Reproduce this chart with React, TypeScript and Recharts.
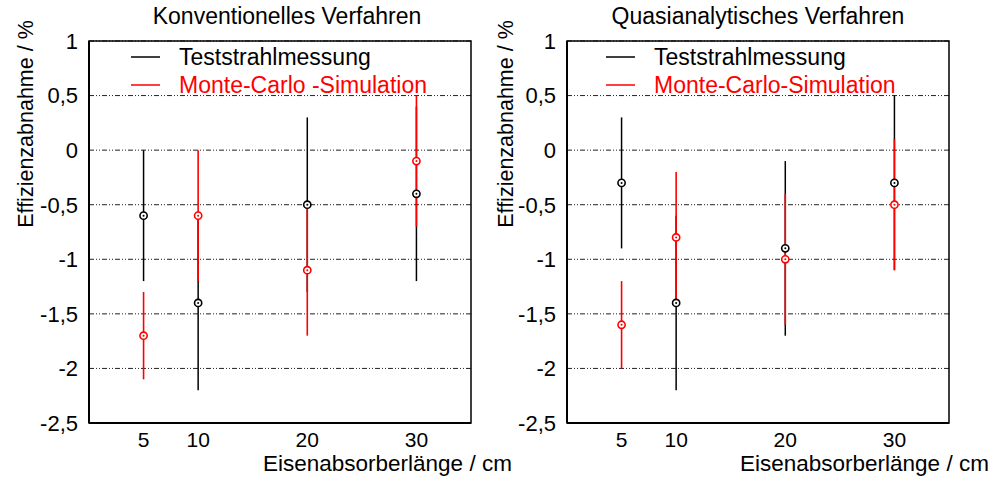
import React from "react";
import {
  CartesianGrid,
  ErrorBar,
  Legend,
  ReferenceArea,
  Scatter,
  ScatterChart,
  XAxis,
  YAxis,
} from "recharts";

const LENGTHS = [5, 10, 20, 30];

const KONV_TEST = [-0.6, -1.4, -0.5, -0.4];
const KONV_TEST_ERR = [0.6, 0.8, 0.8, 0.8];
const KONV_MC = [-1.7, -0.6, -1.1, -0.1];
const KONV_MC_ERR = [0.4, 0.6, 0.6, 0.6];

const QUASI_TEST = [-0.3, -1.4, -0.9, -0.3];
const QUASI_TEST_ERR = [0.6, 0.8, 0.8, 0.8];
const QUASI_MC = [-1.6, -0.8, -1.0, -0.5];
const QUASI_MC_ERR = [0.4, 0.6, 0.6, 0.6];

const TEST_NAME = "Teststrahlmessung";

const Y_TICKS = [1, 0.5, 0, -0.5, -1, -1.5, -2, -2.5];
const Y_MINOR_TICKS = [
  1, 0.9, 0.8, 0.7, 0.6, 0.5, 0.4, 0.3, 0.2, 0.1, 0, -0.1, -0.2, -0.3, -0.4,
  -0.5, -0.6, -0.7, -0.8, -0.9, -1, -1.1, -1.2, -1.3, -1.4, -1.5, -1.6, -1.7,
  -1.8, -1.9, -2, -2.1, -2.2, -2.3, -2.4, -2.5,
];
const X_DOMAIN = [0, 35];
const Y_DOMAIN = [-2.5, 1];

const FONT = "'Liberation Sans', Arial, sans-serif";
const RED = "#ff0000";

const toRows = (ys: number[], errs: number[]) =>
  LENGTHS.map((x, i) => ({ x, y: ys[i], err: errs[i] }));

const fmt = (v: number) => String(v).replace(".", ",");

function Marker(props: any) {
  const { cx, cy, fill } = props;
  if (cx == null || cy == null) return null;
  return (
    <g>
      <circle cx={cx} cy={cy} r={3.6} fill="#fff" stroke={fill} strokeWidth={1.6} />
      <circle cx={cx} cy={cy} r={1} fill={fill} />
    </g>
  );
}

function LegendBox(props: any) {
  // test beam first, simulation below
  const items = [...(props.payload || [])].sort(
    (a: any, b: any) => (a.value === TEST_NAME ? -1 : 0) - (b.value === TEST_NAME ? -1 : 0)
  );
  return (
    <svg width={340} height={60} style={{ display: "block" }}>
      {items.map((p: any, i: number) => (
        <g key={p.value}>
          <line x1={0} x2={29} y1={13 + i * 28} y2={13 + i * 28} stroke={p.color} strokeWidth={1.5} />
          <text x={48} y={21 + i * 28} fontSize={23} fontFamily={FONT} fill={p.color}>
            {p.value}
          </text>
        </g>
      ))}
    </svg>
  );
}

type PanelProps = {
  left: number;
  width: number;
  yWidth: number;
  marginRight: number;
  legendLeft: number;
  mcName: string;
  test: number[];
  testErr: number[];
  mc: number[];
  mcErr: number[];
};

function Panel(p: PanelProps) {
  return (
    <div style={{ position: "absolute", left: p.left, top: 0 }}>
      <ScatterChart
        width={p.width}
        height={477}
        margin={{ top: 41, right: p.marginRight, bottom: 24, left: 0 }}
      >
        <CartesianGrid
          xAxisId="x"
          yAxisId="y"
          vertical={false}
          stroke="#222"
          strokeWidth={1}
          strokeDasharray="5 2 1 2 1 2"
        />
        <XAxis
          xAxisId="x"
          dataKey="x"
          type="number"
          domain={X_DOMAIN}
          ticks={LENGTHS}
          allowDataOverflow
          height={30}
          tickSize={0}
          tickMargin={9}
          axisLine={{ stroke: "#000", strokeWidth: 2 }}
          tick={{ fontSize: 21, fill: "#000", fontFamily: FONT }}
        />
        <XAxis
          xAxisId="xm"
          type="number"
          domain={X_DOMAIN}
          ticks={LENGTHS}
          allowDataOverflow
          mirror
          tick={false}
          tickSize={4}
          axisLine={false}
          tickLine={{ stroke: "#000", strokeWidth: 1.2 }}
        />
        <YAxis
          yAxisId="y"
          dataKey="y"
          type="number"
          domain={Y_DOMAIN}
          ticks={Y_TICKS}
          allowDataOverflow
          width={p.yWidth}
          tickSize={0}
          tickMargin={11}
          tickFormatter={fmt}
          axisLine={{ stroke: "#000", strokeWidth: 2 }}
          tick={{ fontSize: 22, fill: "#000", fontFamily: FONT }}
        />
        <YAxis
          yAxisId="ym"
          type="number"
          domain={Y_DOMAIN}
          ticks={Y_MINOR_TICKS}
          allowDataOverflow
          mirror
          tick={false}
          tickSize={3}
          axisLine={false}
          tickLine={{ stroke: "#000", strokeWidth: 1.2 }}
        />
        <YAxis
          yAxisId="ymr"
          orientation="right"
          type="number"
          domain={Y_DOMAIN}
          ticks={Y_MINOR_TICKS}
          allowDataOverflow
          mirror
          tick={false}
          tickSize={3}
          axisLine={false}
          tickLine={{ stroke: "#000", strokeWidth: 1 }}
        />
        <ReferenceArea
          xAxisId="x"
          yAxisId="y"
          x1={X_DOMAIN[0]}
          x2={X_DOMAIN[1]}
          y1={Y_DOMAIN[0]}
          y2={Y_DOMAIN[1]}
          fill="none"
          fillOpacity={0}
          stroke="#000"
          strokeWidth={1.5}
        />
        <Legend
          layout="vertical"
          align="center"
          verticalAlign="middle"
          content={<LegendBox />}
          wrapperStyle={{ position: "absolute", left: p.legendLeft, top: 44, width: 340, height: 60 }}
        />
        <Scatter
          name={TEST_NAME}
          xAxisId="x"
          yAxisId="y"
          data={toRows(p.test, p.testErr)}
          fill="#000"
          shape={<Marker />}
          isAnimationActive={false}
        >
          <ErrorBar dataKey="err" direction="y" width={0} stroke="#000" strokeWidth={1.5} />
        </Scatter>
        <Scatter
          name={p.mcName}
          xAxisId="x"
          yAxisId="y"
          data={toRows(p.mc, p.mcErr)}
          fill={RED}
          shape={<Marker />}
          isAnimationActive={false}
        >
          <ErrorBar dataKey="err" direction="y" width={0} stroke={RED} strokeWidth={1.6} />
        </Scatter>
      </ScatterChart>
    </div>
  );
}

export default function App() {
  return (
    <div
      style={{
        position: "absolute",
        left: 0,
        top: 0,
        width: 992,
        height: 477,
        background: "#fff",
        fontFamily: FONT,
      }}
    >
      <Panel
        left={0}
        width={480}
        yWidth={89}
        marginRight={9}
        legendLeft={131}
        mcName="Monte-Carlo -Simulation"
        test={KONV_TEST}
        testErr={KONV_TEST_ERR}
        mc={KONV_MC}
        mcErr={KONV_MC_ERR}
      />
      <Panel
        left={480}
        width={512}
        yWidth={87}
        marginRight={43}
        legendLeft={126}
        mcName="Monte-Carlo-Simulation"
        test={QUASI_TEST}
        testErr={QUASI_TEST_ERR}
        mc={QUASI_MC}
        mcErr={QUASI_MC_ERR}
      />
      <svg
        width={992}
        height={477}
        style={{ position: "absolute", left: 0, top: 0, pointerEvents: "none" }}
        fontFamily={FONT}
        fill="#000"
      >
        <text x={287} y={24} textAnchor="middle" fontSize={23}>Konventionelles Verfahren</text>
        <text x={758} y={24} textAnchor="middle" fontSize={23}>Quasianalytisches Verfahren</text>
        <text x={33} y={124} textAnchor="middle" fontSize={21.5} transform="rotate(-90, 33, 124)">
          Effizienzabnahme / %
        </text>
        <text x={513} y={124} textAnchor="middle" fontSize={21.5} transform="rotate(-90, 513, 124)">
          Effizienzabnahme / %
        </text>
        <text x={263} y={471} fontSize={22.5}>Eisenabsorberlänge / cm</text>
        <text x={740} y={471} fontSize={22.5}>Eisenabsorberlänge / cm</text>
      </svg>
    </div>
  );
}
